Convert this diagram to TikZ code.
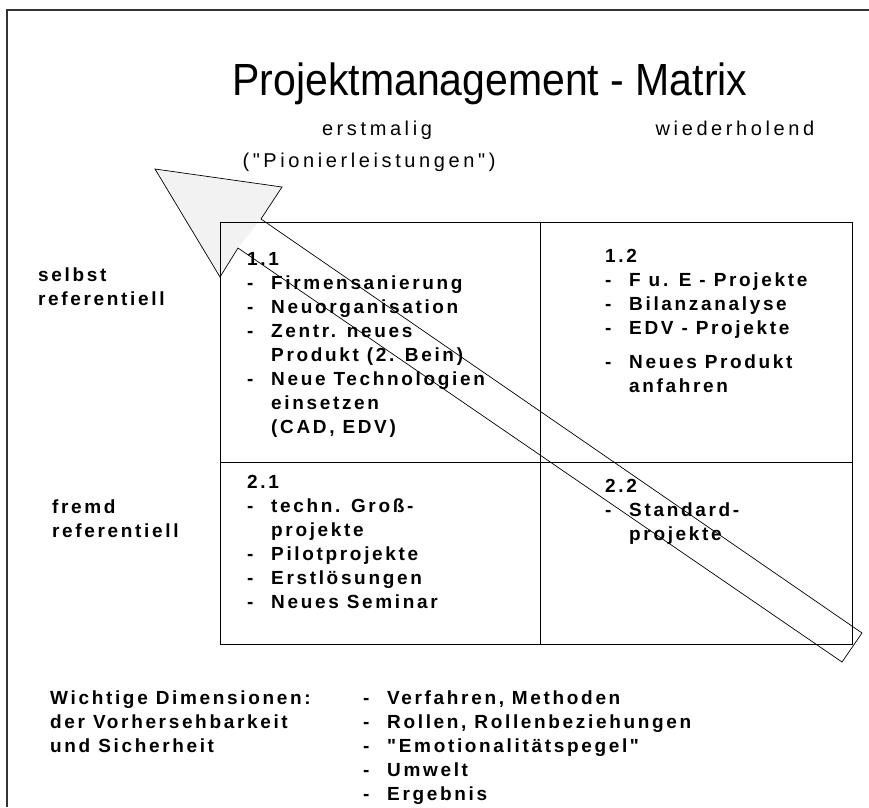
\documentclass[tikz,border=0pt]{standalone}
\usepackage{fontspec}
\setmainfont{Liberation Sans}
\newfontfamily\spacedsans[LetterSpace=14]{Liberation Sans}
\newfontfamily\wideheads[LetterSpace=18]{Liberation Sans}
\newcommand{\itm}[1]{\makebox[24pt][l]{-}#1}
\newcommand{\cnt}[1]{\hspace*{24pt}#1}
\begin{document}
\begin{tikzpicture}[x=1pt, y=-1pt,
        title/.style={anchor=base, inner sep=0pt, font=\fontsize{41}{48}\selectfont},
        colhead/.style={anchor=base, inner sep=0pt, font=\fontsize{20}{24}\selectfont\wideheads},
        rowhead/.style={anchor=north west, inner sep=0pt, align=left, font=\fontsize{19}{24}\selectfont\spacedsans\bfseries},
        cell/.style={anchor=north west, inner sep=0pt, align=left, font=\fontsize{19}{24}\selectfont\spacedsans\bfseries},
        grid/.style={line width=0.9pt},
        frame/.style={line width=1.6pt, black!80},
        bigarrow/.style={line width=0.7pt}
    ]
    \useasboundingbox (0,0) rectangle (869,807);

    % --- Frame ---
    \draw[frame] (7,807) -- (7,10) -- (869,10);

    % --- Title and column heads ---
    \node[title] (title) at (490,95) {\scalebox{1}[1.1]{Projektmanagement - Matrix}};
    \node[colhead] (first) at (377,135) {erstmalig};
    \node[colhead] (pioneer) at (369,167) {("Pionierleistungen")};
    \node[colhead] (repeat) at (735,135) {wiederholend};

    % --- Arrow ---
    \fill[black!5] (155,169) -- (282,187) -- (261,219) -- (238,248) -- (220,277) -- cycle;
    \draw[bigarrow] (155,169) -- (282,187) -- (261,219) -- (862,633)
        -- (842,662) -- (238,248) -- (220,277) -- cycle;

    % --- Matrix ---
    \draw[grid] (220,222) rectangle (852,644);
    \draw[grid] (540,222) -- (540,644);
    \draw[grid] (220,462) -- (852,462);

    % --- Row heads ---
    \node[rowhead] (self) at (38,267.5) {selbst\\referentiell};
    \node[rowhead] (foreign) at (52,499.5) {fremd\\referentiell};

    % --- Cells ---
    \node[cell] (c11) at (247,252.5) {1.1\\ \itm{Firmensanierung}\\ \itm{Neuorganisation}\\
        \itm{Zentr. neues}\\ \cnt{Produkt (2. Bein)}\\ \itm{Neue Technologien}\\
        \cnt{einsetzen}\\ \cnt{(CAD, EDV)}};
    \node[cell] (c12) at (605,249.5) {1.2\\ \itm{F u. E - Projekte}\\ \itm{Bilanzanalyse}\\
        \itm{EDV - Projekte}\\[10pt] \itm{Neues Produkt}\\ \cnt{anfahren}};
    \node[cell] (c21) at (247,475.5) {2.1\\ \itm{techn. Groß-}\\ \cnt{projekte}\\
        \itm{Pilotprojekte}\\ \itm{Erstlösungen}\\ \itm{Neues Seminar}};
    \node[cell] (c22) at (605,479.5) {2.2\\ \itm{Standard-}\\ \cnt{projekte}};

    % --- Dimensions ---
    \node[rowhead] (dims) at (50,690.5) {Wichtige Dimensionen:\\der Vorhersehbarkeit\\und Sicherheit};
    \node[cell] (dimlist) at (363,690.5) {\itm{Verfahren, Methoden}\\ \itm{Rollen, Rollenbeziehungen}\\
        \itm{"Emotionalitätspegel"}\\ \itm{Umwelt}\\ \itm{Ergebnis}};

\end{tikzpicture}
\end{document}
